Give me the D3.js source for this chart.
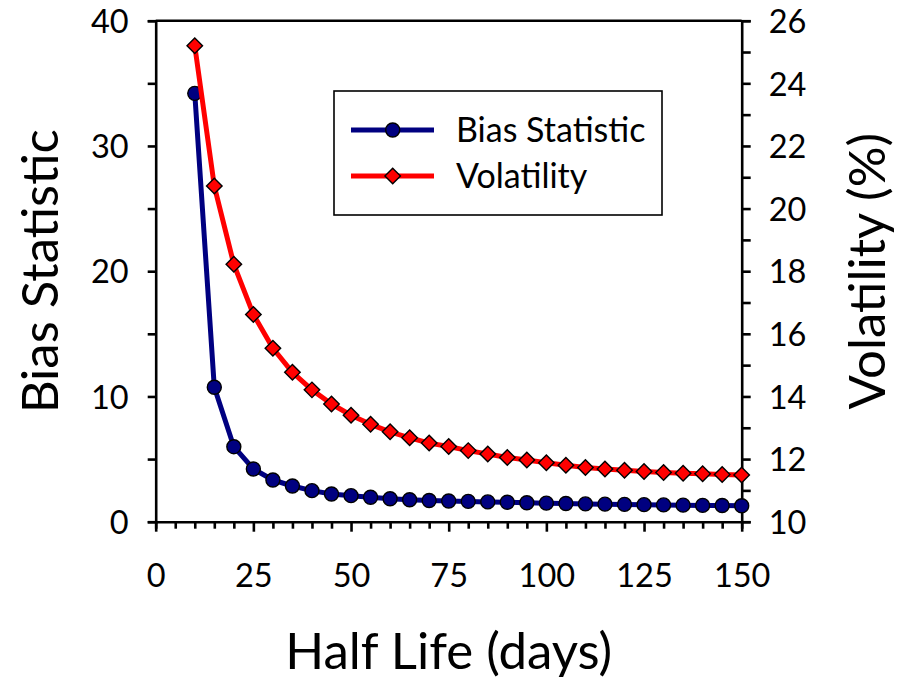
<!DOCTYPE html>
<html>
<head>
<meta charset="utf-8">
<script src="https://cdn.jsdelivr.net/npm/d3@7/dist/d3.min.js"></script>
<style>
  html, body { margin: 0; padding: 0; background: #fff; }
  svg { display: block; font-family: Lato, "Open Sans", sans-serif; }
</style>
</head>
<body>
<svg id="chart" width="900" height="677"></svg>
<script>
// Half life in days
const halfLife = [10, 15, 20, 25, 30, 35, 40, 45, 50, 55, 60, 65, 70, 75, 80,
                  85, 90, 95, 100, 105, 110, 115, 120, 125, 130, 135, 140, 145, 150];
// Bias statistic (left axis)
const biasStat = [34.2, 10.73, 5.99, 4.21, 3.33, 2.85, 2.48, 2.21, 2.08, 1.95, 1.83, 1.75, 1.69, 1.65, 1.62,
                  1.58, 1.55, 1.51, 1.48, 1.45, 1.42, 1.40, 1.38, 1.36, 1.34, 1.32, 1.30, 1.29, 1.27];
// Volatility in percent (right axis)
const volatility = [25.2, 20.72, 18.22, 16.62, 15.54, 14.77, 14.21, 13.76, 13.40, 13.11, 12.87, 12.68, 12.51, 12.40, 12.27,
                    12.16, 12.05, 11.97, 11.88, 11.80, 11.73, 11.68, 11.64, 11.60, 11.57, 11.55, 11.53, 11.51, 11.49];

const xTicks = [0, 25, 50, 75, 100, 125, 150];
const leftTicks = [0, 10, 20, 30, 40];
const rightTicks = [10, 12, 14, 16, 18, 20, 22, 24, 26];
const seriesNames = ["Bias Statistic", "Volatility"];
const xTitle = "Half Life (days)";
const leftTitle = "Bias Statistic";
const rightTitle = "Volatility (%)";

const svg = d3.select("#chart");
const L = 155.7, R = 741.7, T = 20.7, B = 521.7;

const x = d3.scaleLinear().domain([0, 150]).range([L, R]);
const yL = d3.scaleLinear().domain([0, 40]).range([B, T]);
const yR = d3.scaleLinear().domain([10, 26]).range([B, T]);

const navy = "#000080", red = "#ff0000";
const axisW = 2.6;
const tickFont = 32.5, titleFont = 51;

// frame: top border
svg.append("line").attr("x1", L).attr("x2", R).attr("y1", T).attr("y2", T)
  .attr("stroke", "#000").attr("stroke-width", axisW);

// x axis with minor ticks every 5
const gx = svg.append("g").attr("transform", `translate(0,${B})`);
gx.call(d3.axisBottom(x).tickValues(d3.range(0, 151, 5)).tickSize(7).tickFormat(""));
gx.call(g => g.selectAll(".tick").filter(d => d % 25 === 0).select("line").attr("y2", 10));
gx.select(".domain").attr("stroke-width", axisW);
gx.selectAll(".tick line").attr("stroke-width", 2.6);
const gxl = svg.append("g").attr("transform", `translate(0,${B})`)
  .call(d3.axisBottom(x).tickValues(xTicks).tickSize(0).tickPadding(65));
gxl.select(".domain").remove();
gxl.selectAll("text").attr("font-size", tickFont).attr("font-family", "Lato").attr("fill", "#000").attr("dy", 0);

// left axis
const gl = svg.append("g").attr("transform", `translate(${L},0)`);
gl.call(d3.axisLeft(yL).tickValues(d3.range(0, 41, 5)).tickSize(8).tickFormat(""));
gl.select(".domain").attr("stroke-width", axisW);
gl.selectAll(".tick line").attr("stroke-width", 2.6);
const gll = svg.append("g").attr("transform", `translate(${L},0)`)
  .call(d3.axisLeft(yL).tickValues(leftTicks).tickSize(0).tickPadding(27));
gll.select(".domain").remove();
gll.selectAll("text").attr("font-size", tickFont).attr("font-family", "Lato").attr("fill", "#000").attr("dy", "0.36em");

// right axis
const gr = svg.append("g").attr("transform", `translate(${R},0)`);
gr.call(d3.axisRight(yR).tickValues(d3.range(10, 26.1, 1)).tickSize(9).tickFormat(""));
gr.select(".domain").attr("stroke-width", axisW);
gr.selectAll(".tick line").attr("stroke-width", 2.6);
const grl = svg.append("g").attr("transform", `translate(${R},0)`)
  .call(d3.axisRight(yR).tickValues(rightTicks).tickSize(0).tickPadding(27));
grl.select(".domain").remove();
grl.selectAll("text").attr("font-size", tickFont).attr("font-family", "Lato").attr("fill", "#000").attr("dy", "0.36em");

// axis titles
svg.append("text").attr("x", (L + R) / 2).attr("y", 669).attr("text-anchor", "middle")
  .attr("font-size", titleFont).text(xTitle);
svg.append("text").attr("transform", `translate(58,${(T + B) / 2}) rotate(-90)`)
  .attr("text-anchor", "middle").attr("font-size", titleFont).text(leftTitle);
svg.append("text").attr("transform", `translate(885,${(T + B) / 2}) rotate(-90)`)
  .attr("text-anchor", "middle").attr("font-size", titleFont).text(rightTitle);

// series
const biasPts = halfLife.map((h, i) => [h, biasStat[i]]);
const volPts = halfLife.map((h, i) => [h, volatility[i]]);

svg.append("path").datum(biasPts)
  .attr("d", d3.line().x(d => x(d[0])).y(d => yL(d[1])))
  .attr("fill", "none").attr("stroke", navy).attr("stroke-width", 5).attr("stroke-linejoin", "round");
svg.append("g").selectAll("circle").data(biasPts).join("circle")
  .attr("cx", d => x(d[0])).attr("cy", d => yL(d[1])).attr("r", 7)
  .attr("fill", navy).attr("stroke", "#000").attr("stroke-width", 1.4);

const diamond = d3.symbol().type(d3.symbolSquare).size(120);
svg.append("path").datum(volPts)
  .attr("d", d3.line().x(d => x(d[0])).y(d => yR(d[1])))
  .attr("fill", "none").attr("stroke", red).attr("stroke-width", 5).attr("stroke-linejoin", "round");
svg.append("g").selectAll("path").data(volPts).join("path")
  .attr("d", diamond)
  .attr("transform", d => `translate(${x(d[0])},${yR(d[1])}) rotate(45)`)
  .attr("fill", red).attr("stroke", "#000").attr("stroke-width", 1.4);

// legend
const lg = svg.append("g");
lg.append("rect").attr("x", 334).attr("y", 91).attr("width", 328).attr("height", 124)
  .attr("fill", "#fff").attr("stroke", "#000").attr("stroke-width", 1.6);
const legendRows = [
  { name: seriesNames[0], color: navy, y: 130, marker: "circle" },
  { name: seriesNames[1], color: red, y: 176, marker: "diamond" }
];
legendRows.forEach(r => {
  lg.append("line").attr("x1", 351).attr("x2", 434).attr("y1", r.y).attr("y2", r.y)
    .attr("stroke", r.color).attr("stroke-width", 5);
  if (r.marker === "circle") {
    lg.append("circle").attr("cx", 392.7).attr("cy", r.y).attr("r", 7)
      .attr("fill", r.color).attr("stroke", "#000").attr("stroke-width", 1.4);
  } else {
    lg.append("path").attr("d", diamond).attr("transform", `translate(392.7,${r.y}) rotate(45)`)
      .attr("fill", r.color).attr("stroke", "#000").attr("stroke-width", 1.4);
  }
  lg.append("text").attr("x", 456).attr("y", r.y + 12).attr("font-size", 34).text(r.name);
});
</script>
</body>
</html>
